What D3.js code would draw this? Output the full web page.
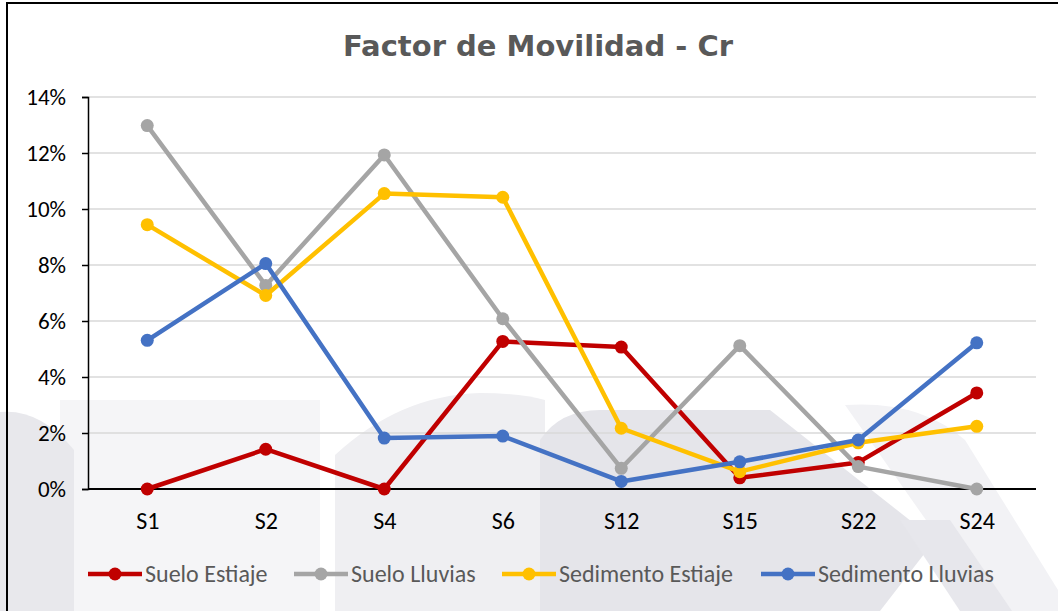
<!DOCTYPE html>
<html>
<head>
<meta charset="utf-8">
<script src="https://cdn.jsdelivr.net/npm/d3@7"></script>
<style>
  html, body { margin: 0; padding: 0; background: #fff; }
  svg { display: block; }
</style>
</head>
<body>
<svg id="chart" width="1058" height="611"></svg>
<script>
// Sampling sites along the x axis
const sites = ["S1", "S2", "S4", "S6", "S12", "S15", "S22", "S24"];

// Mobility factor for Cr, in percent, per sample type and season
const sueloEstiaje     = [0.00, 1.42, 0.00, 5.27, 5.07, 0.40, 0.95, 3.43];
const sueloLluvias     = [12.98, 7.27, 11.93, 6.08, 0.74, 5.12, 0.80, 0.00];
const sedimentoEstiaje = [9.44, 6.91, 10.55, 10.42, 2.17, 0.62, 1.65, 2.24];
const sedimentoLluvias = [5.31, 8.05, 1.82, 1.89, 0.27, 0.97, 1.75, 5.22];

const yTicks = [0, 2, 4, 6, 8, 10, 12, 14];

const series = [
  { name: "Suelo Estiaje",     values: sueloEstiaje,     color: "#C00000" },
  { name: "Suelo Lluvias",     values: sueloLluvias,     color: "#A5A5A5" },
  { name: "Sedimento Estiaje", values: sedimentoEstiaje, color: "#FFC000" },
  { name: "Sedimento Lluvias", values: sedimentoLluvias, color: "#4472C4" }
];

const svg = d3.select("#chart");
const W = 1058, H = 611;
const plot = { left: 88, right: 1036, top: 97, bottom: 489 };
const labelFont = "Calibri, Carlito, Lato, 'Open Sans', sans-serif";

// Faint background pattern behind the chart area
const bg = svg.append("g").attr("class", "backdrop");
bg.append("rect").attr("x", 60).attr("y", 400).attr("width", 260).attr("height", 211).attr("fill", "#f5f5f7");
bg.append("path").attr("d", "M0,412 Q40,408 74,450 L74,611 L0,611 Z").attr("fill", "#e8e8ec");
bg.append("path").attr("d", "M335,611 L335,455 Q400,395 480,393 Q520,393 545,400 L545,611 Z").attr("fill", "#efeff2");
bg.append("path").attr("d", "M540,611 L540,440 Q560,410 600,410 L770,410 L935,540 L880,611 Z").attr("fill", "#e5e5ea");
bg.append("path").attr("d", "M845,405 Q920,400 965,440 L1058,590 L1058,611 L990,611 Z").attr("fill", "#f2f2f5");
bg.append("path").attr("d", "M900,520 L950,520 L1012,611 L960,611 Z").attr("fill", "#e7e7ec");

// Chart frame
svg.append("rect")
  .attr("x", 7).attr("y", 3)
  .attr("width", W + 10).attr("height", H + 10)
  .attr("fill", "none").attr("stroke", "#000").attr("stroke-width", 2);

// Scales
const x = d3.scalePoint().domain(sites).range([plot.left, plot.right]).padding(0.5);
const y = d3.scaleLinear().domain([0, 14]).range([plot.bottom, plot.top]);

// Gridlines
svg.append("g")
  .selectAll("line")
  .data(yTicks.filter(t => t > 0))
  .join("line")
  .attr("x1", plot.left).attr("x2", plot.right)
  .attr("y1", d => y(d)).attr("y2", d => y(d))
  .attr("stroke", "#d9d9d9").attr("stroke-width", 1.5);

// Y axis
const yAxis = svg.append("g")
  .attr("transform", `translate(${plot.left},0)`)
  .call(d3.axisLeft(y).tickValues(yTicks).tickFormat(d => d + "%").tickSize(6).tickPadding(16));
yAxis.select(".domain").attr("stroke", "#000").attr("stroke-width", 1.5);
yAxis.selectAll(".tick line").attr("stroke", "#000").attr("stroke-width", 1.5);
yAxis.selectAll(".tick text")
  .attr("font-family", labelFont).attr("font-size", 23).attr("fill", "#000");

// X axis
const xAxis = svg.append("g")
  .attr("transform", `translate(0,${plot.bottom})`)
  .call(d3.axisBottom(x).tickSize(0).tickPadding(23));
xAxis.select(".domain")
  .attr("d", `M${plot.left},0H${plot.right}`)
  .attr("stroke", "#000").attr("stroke-width", 2);
xAxis.selectAll(".tick text")
  .attr("font-family", labelFont).attr("font-size", 24).attr("fill", "#000");

// Lines and markers
const line = d3.line().x((d, i) => x(sites[i])).y(d => y(d));
const gSeries = svg.append("g")
  .selectAll("g")
  .data(series)
  .join("g");
gSeries.append("path")
  .attr("d", s => line(s.values))
  .attr("fill", "none")
  .attr("stroke", s => s.color)
  .attr("stroke-width", 4.5)
  .attr("stroke-linejoin", "round");
gSeries.selectAll("circle")
  .data(s => s.values.map((v, i) => ({ v, i, color: s.color })))
  .join("circle")
  .attr("cx", d => x(sites[d.i]))
  .attr("cy", d => y(d.v))
  .attr("r", 6.5)
  .attr("fill", d => d.color);

// Title
svg.append("text")
  .attr("x", 538).attr("y", 56)
  .attr("text-anchor", "middle")
  .attr("font-family", "Verdana, 'DejaVu Sans', sans-serif")
  .attr("font-weight", "bold")
  .attr("font-size", 29)
  .attr("fill", "#595959")
  .text("Factor de Movilidad - Cr");

// Legend
const legendX = [88, 294, 502, 761];
const legend = svg.append("g")
  .selectAll("g")
  .data(series)
  .join("g")
  .attr("transform", (d, i) => `translate(${legendX[i]},574)`);
legend.append("line")
  .attr("x1", 0).attr("x2", 54).attr("y1", 0).attr("y2", 0)
  .attr("stroke", d => d.color).attr("stroke-width", 4.5);
legend.append("circle")
  .attr("cx", 27).attr("cy", 0).attr("r", 6.5)
  .attr("fill", d => d.color);
legend.append("text")
  .attr("x", 57).attr("y", 0).attr("dy", "0.35em")
  .attr("font-family", labelFont).attr("font-size", 24)
  .attr("fill", "#595959")
  .text(d => d.name);
</script>
</body>
</html>
